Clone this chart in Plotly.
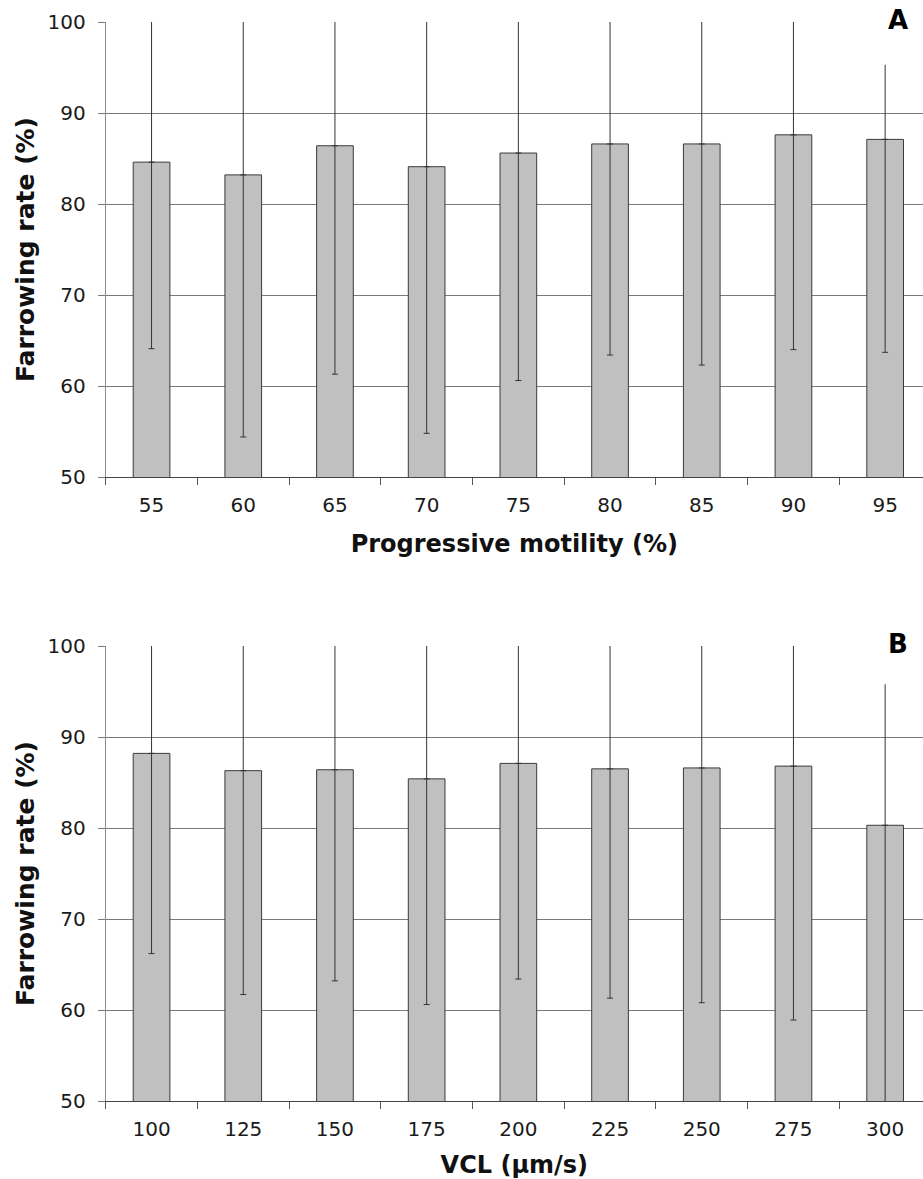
import plotly.graph_objects as go

# Panel A: farrowing rate by progressive motility class
motility = ["55", "60", "65", "70", "75", "80", "85", "90", "95"]
farrow_a = [84.6, 83.2, 86.4, 84.1, 85.6, 86.6, 86.6, 87.6, 87.1]
upper_a = [105.0, 112.0, 111.5, 113.4, 110.6, 109.8, 110.9, 111.2, 95.3]
lower_a = [64.1, 54.4, 61.3, 54.8, 60.6, 63.4, 62.3, 64.0, 63.7]

# Panel B: farrowing rate by curvilinear velocity class
vcl = ["100", "125", "150", "175", "200", "225", "250", "275", "300"]
farrow_b = [88.2, 86.3, 86.4, 85.4, 87.1, 86.5, 86.6, 86.8, 80.3]
upper_b = [110.2, 110.9, 109.6, 110.2, 110.8, 111.7, 112.4, 114.7, 95.8]
lower_b = [66.2, 61.7, 63.2, 60.6, 63.4, 61.3, 60.8, 58.9, 44.0]

FONT = "DejaVu Sans"
W, H = 923, 1179
PLOT_L = 105.7
CAT_W = 91.7

fig = go.Figure()


def add_panel(cats, vals, up, lo, xa, ya):
    fig.add_trace(go.Bar(
        x=cats, y=vals, xaxis=xa, yaxis=ya, width=0.4,
        marker=dict(color="#c0c0c0", line=dict(color="#3a3a3a", width=1)),
        showlegend=False, hoverinfo="skip",
    ))
    # upper whisker, no cap
    fig.add_trace(go.Scatter(
        x=cats, y=vals, xaxis=xa, yaxis=ya, mode="markers",
        marker=dict(size=1, opacity=0), showlegend=False, hoverinfo="skip",
        error_y=dict(type="data", symmetric=False,
                     array=[u - v for u, v in zip(up, vals)],
                     arrayminus=[0] * len(vals),
                     color="#333333", thickness=1, width=0),
    ))
    # lower whisker with cap
    fig.add_trace(go.Scatter(
        x=cats, y=vals, xaxis=xa, yaxis=ya, mode="markers",
        marker=dict(size=1, opacity=0), showlegend=False, hoverinfo="skip",
        error_y=dict(type="data", symmetric=False,
                     array=[0] * len(vals),
                     arrayminus=[v - l for v, l in zip(vals, lo)],
                     color="#333333", thickness=1, width=3),
    ))


add_panel(motility, farrow_a, upper_a, lower_a, "x", "y")
add_panel(vcl, farrow_b, upper_b, lower_b, "x2", "y2")

x_right = -0.5 + (W - PLOT_L) / CAT_W


def y_dom(top_px, bot_px):
    return [1 - bot_px / H, 1 - top_px / H]


XTITLE_FONT = dict(family=FONT, size=24, color="#111111")
YTITLE_FONT = dict(family=FONT, size=25, color="#111111")

xcommon = dict(
    type="category", range=[-0.5, x_right], showgrid=False, automargin=False,
    showline=True, linecolor="#444444", linewidth=1,
    ticks="outside", tickson="boundaries", ticklen=7, tickcolor="#555555",
    ticklabelstandoff=10,
    tickfont=dict(family=FONT, size=20, color="#1a1a1a"),
    domain=[PLOT_L / W, 1], fixedrange=True,
)
ycommon = dict(
    range=[50, 100], dtick=10, tick0=50, showgrid=True, gridcolor="#7a7a7a",
    gridwidth=1, showline=True, linecolor="#8a8a8a", linewidth=1,
    ticks="outside", ticklen=7, tickcolor="#7a7a7a", automargin=False,
    ticklabelstandoff=8,
    tickfont=dict(family=FONT, size=20, color="#1a1a1a"),
    zeroline=False, fixedrange=True,
)

fig.update_layout(
    width=W, height=H,
    margin=dict(l=0, r=0, t=0, b=0),
    paper_bgcolor="white", plot_bgcolor="white",
    xaxis=dict(xcommon, anchor="y",
               title=dict(text="<b>Progressive motility (%)</b>",
                          font=XTITLE_FONT, standoff=19)),
    yaxis=dict(ycommon, anchor="x", domain=y_dom(22, 477),
               title=dict(text="<b>Farrowing rate (%)</b>",
                          font=YTITLE_FONT, standoff=5)),
    xaxis2=dict(xcommon, anchor="y2",
                title=dict(text="<b>VCL (µm/s)</b>",
                           font=XTITLE_FONT, standoff=20)),
    yaxis2=dict(ycommon, anchor="x2", domain=y_dom(646, 1101),
                title=dict(text="<b>Farrowing rate (%)</b>",
                           font=YTITLE_FONT, standoff=5)),
)

# panel letters on a white patch over the top gridline
for letter, top_px in (("A", 22), ("B", 646)):
    fig.add_shape(type="rect", xref="paper", yref="paper", layer="above",
                  x0=866 / W, x1=1, y0=1 - (top_px + 14) / H, y1=1 - (top_px - 14) / H,
                  fillcolor="white", line=dict(width=0))
    fig.add_annotation(text=f"<b>{letter}</b>", xref="paper", yref="paper",
                       x=898 / W, y=1 - (top_px - 2) / H, xanchor="center", yanchor="middle",
                       showarrow=False, font=dict(family=FONT, size=26, color="#000000"))

fig.write_html("out.html")
